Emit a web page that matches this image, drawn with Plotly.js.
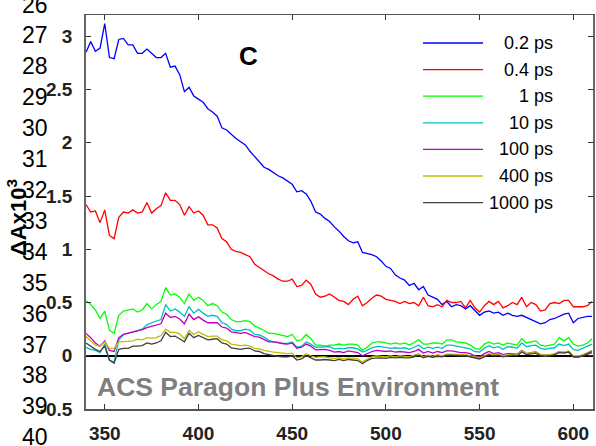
<!DOCTYPE html>
<html><head><meta charset="utf-8">
<script src="https://cdn.plot.ly/plotly-3.0.1.min.js"></script>
<style>html,body{margin:0;padding:0;background:#fff;}#chart{width:596px;height:446px;}</style>
</head><body><div id="chart"></div>
<script>
// Wavelength (nm)
const wavelength = [
340,342.5,345,347.5,350,352.5,355,357.5,360,362.5,
365,367.5,370,372.5,375,377.5,380,382.5,385,387.5,
390,392.5,395,397.5,400,402.5,405,407.5,410,412.5,
415,417.5,420,422.5,425,427.5,430,432.5,435,437.5,
440,442.5,445,447.5,450,452.5,455,457.5,460,462.5,
465,467.5,470,472.5,475,477.5,480,482.5,485,487.5,
490,492.5,495,497.5,500,502.5,505,507.5,510,512.5,
515,517.5,520,522.5,525,527.5,530,532.5,535,537.5,
540,542.5,545,547.5,550,552.5,555,557.5,560,562.5,
565,567.5,570,572.5,575,577.5,580,582.5,585,587.5,
590,592.5,595,597.5,600,602.5,605,607.5,610];

const dA_0p2ps = [
2.85,2.95,2.86,2.89,3.12,2.80,2.79,2.97,2.98,2.92,
2.92,2.84,2.84,2.88,2.84,2.80,2.80,2.84,2.71,2.72,
2.64,2.48,2.52,2.44,2.41,2.38,2.32,2.29,2.25,2.14,
2.12,2.08,2.04,2.01,1.98,1.92,1.87,1.82,1.77,1.75,
1.72,1.69,1.67,1.64,1.61,1.54,1.55,1.52,1.45,1.35,
1.33,1.29,1.26,1.21,1.17,1.12,1.08,1.06,1.07,0.97,
0.96,0.95,0.93,0.89,0.84,0.82,0.76,0.73,0.71,0.66,
0.68,0.62,0.65,0.57,0.55,0.53,0.48,0.51,0.46,0.48,
0.47,0.44,0.47,0.42,0.38,0.41,0.42,0.40,0.41,0.38,
0.40,0.38,0.37,0.38,0.36,0.34,0.32,0.30,0.31,0.34,
0.35,0.37,0.39,0.40,0.31,0.35,0.36,0.37,0.37];

const dA_0p4ps = [
1.42,1.35,1.36,1.25,1.37,1.13,1.10,1.30,1.35,1.34,
1.37,1.34,1.35,1.44,1.34,1.38,1.41,1.53,1.46,1.46,
1.42,1.32,1.40,1.34,1.36,1.32,1.23,1.23,1.20,1.10,
1.07,1.00,0.98,0.97,0.95,0.93,0.86,0.83,0.80,0.77,
0.75,0.72,0.70,0.70,0.72,0.65,0.66,0.71,0.67,0.58,
0.55,0.56,0.58,0.55,0.52,0.51,0.48,0.53,0.56,0.47,
0.50,0.54,0.57,0.56,0.53,0.52,0.51,0.49,0.51,0.49,
0.50,0.47,0.55,0.47,0.46,0.48,0.46,0.52,0.50,0.50,
0.51,0.45,0.52,0.45,0.41,0.47,0.51,0.48,0.51,0.45,
0.47,0.50,0.48,0.55,0.46,0.50,0.48,0.42,0.43,0.49,
0.50,0.49,0.52,0.52,0.46,0.46,0.46,0.47,0.51];

const dA_1ps = [
0.52,0.48,0.43,0.35,0.42,0.24,0.21,0.38,0.42,0.43,
0.44,0.41,0.43,0.49,0.44,0.48,0.51,0.64,0.57,0.58,
0.55,0.49,0.58,0.52,0.55,0.52,0.47,0.49,0.47,0.41,
0.39,0.34,0.32,0.32,0.33,0.32,0.28,0.26,0.24,0.21,
0.21,0.20,0.19,0.18,0.20,0.14,0.15,0.20,0.16,0.10,
0.10,0.09,0.10,0.10,0.11,0.10,0.11,0.11,0.10,0.05,
0.08,0.12,0.13,0.13,0.12,0.11,0.12,0.11,0.12,0.10,
0.125,0.15,0.11,0.11,0.12,0.12,0.11,0.15,0.15,0.13,
0.125,0.12,0.10,0.07,0.06,0.11,0.13,0.11,0.12,0.10,
0.12,0.11,0.10,0.16,0.12,0.13,0.14,0.10,0.09,0.10,
0.11,0.17,0.14,0.17,0.11,0.09,0.10,0.12,0.16];

const dA_10ps = [
0.08,0.06,0.05,0.03,0.11,-0.04,-0.06,0.15,0.20,0.21,
0.22,0.235,0.25,0.29,0.31,0.325,0.34,0.48,0.42,0.44,
0.41,0.37,0.46,0.40,0.435,0.40,0.37,0.38,0.37,0.31,
0.295,0.25,0.235,0.235,0.25,0.24,0.20,0.195,0.175,0.145,
0.13,0.125,0.115,0.115,0.13,0.08,0.09,0.13,0.11,0.08,
0.08,0.085,0.085,0.065,0.07,0.065,0.075,0.075,0.065,0.035,
0.05,0.075,0.085,0.085,0.08,0.07,0.075,0.07,0.075,0.06,
0.08,0.10,0.065,0.08,0.07,0.08,0.07,0.10,0.10,0.09,
0.085,0.075,0.065,0.04,0.035,0.07,0.095,0.075,0.085,0.06,
0.085,0.08,0.07,0.12,0.085,0.095,0.10,0.07,0.06,0.07,
0.075,0.11,0.095,0.11,0.06,0.05,0.07,0.09,0.11];

const dA_100ps = [
0.21,0.17,0.12,0.09,0.14,0.05,0.04,0.17,0.20,0.21,
0.22,0.235,0.245,0.265,0.275,0.285,0.30,0.40,0.36,0.37,
0.345,0.30,0.39,0.34,0.365,0.335,0.31,0.31,0.31,0.27,
0.26,0.225,0.215,0.21,0.22,0.20,0.18,0.175,0.15,0.13,
0.13,0.12,0.115,0.11,0.12,0.07,0.08,0.11,0.09,0.055,
0.055,0.06,0.05,0.035,0.04,0.03,0.045,0.04,0.03,0.0,
0.02,0.04,0.05,0.045,0.04,0.045,0.035,0.04,0.035,0.03,
0.04,0.06,0.025,0.04,0.025,0.04,0.03,0.045,0.045,0.035,
0.03,0.03,0.02,0.0,-0.01,0.02,0.04,0.02,0.03,0.01,
0.02,0.02,0.015,0.05,0.02,0.03,0.035,0.01,0.005,0.01,
0.015,0.04,0.03,0.035,-0.01,-0.015,0.0,0.02,0.03];

const dA_400ps = [
0.18,0.14,0.10,0.09,0.13,0.07,0.07,0.13,0.13,0.135,
0.14,0.155,0.15,0.17,0.165,0.17,0.19,0.25,0.22,0.22,
0.205,0.16,0.24,0.20,0.225,0.205,0.18,0.185,0.185,0.15,
0.14,0.11,0.10,0.095,0.10,0.09,0.07,0.065,0.05,0.04,
0.035,0.03,0.025,0.02,0.025,-0.02,-0.01,0.02,0.0,-0.015,
-0.01,-0.01,-0.02,-0.025,-0.02,-0.03,-0.02,-0.025,-0.03,-0.06,
-0.03,-0.01,0.0,-0.005,-0.01,0.0,-0.01,0.0,-0.005,-0.01,
0.005,0.02,-0.01,0.005,-0.005,0.01,0.0,0.015,0.015,0.01,
0.01,0.01,0.0,-0.01,-0.02,0.0,0.02,0.01,0.015,0.0,
0.01,0.015,0.01,0.05,0.02,0.03,0.035,0.01,0.005,0.01,
0.015,0.04,0.035,0.045,0.0,0.0,0.01,0.03,0.05];

const dA_1000ps = [
0.12,0.09,0.06,0.04,0.09,-0.04,-0.07,0.06,0.07,0.07,
0.09,0.09,0.095,0.12,0.11,0.12,0.14,0.22,0.18,0.185,
0.16,0.13,0.21,0.17,0.19,0.17,0.15,0.155,0.16,0.12,
0.11,0.075,0.065,0.06,0.07,0.07,0.045,0.04,0.02,0.01,
0.0,-0.005,-0.01,-0.01,0.0,-0.04,-0.03,0.0,-0.02,-0.04,
-0.04,-0.035,-0.04,-0.045,-0.035,-0.045,-0.035,-0.04,-0.045,-0.075,
-0.045,-0.025,-0.02,-0.02,-0.025,-0.015,-0.02,-0.015,-0.02,-0.02,
-0.01,0.005,-0.02,-0.005,-0.015,-0.005,-0.01,0.005,0.005,0.0,
0.0,0.0,-0.01,-0.02,-0.03,-0.01,0.01,0.0,0.005,-0.01,
0.0,0.005,0.0,0.035,0.01,0.02,0.025,0.0,-0.005,0.0,
0.01,0.03,0.025,0.035,-0.01,-0.01,0.0,0.02,0.04];

const seriesNames = ['0.2 ps','0.4 ps','1 ps','10 ps','100 ps','400 ps','1000 ps'];
const seriesValues = [dA_0p2ps, dA_0p4ps, dA_1ps, dA_10ps, dA_100ps, dA_400ps, dA_1000ps];
const seriesColors = ['#0000ff','#ff0000','#00ff00','#00bfbf','#bf00bf','#bfbf00','#404040'];
const xTickValues = [350,400,450,500,550,600];
const yTickValues = [-0.5,0,0.5,1,1.5,2,2.5,3];
const lineNumbers = [26,27,28,29,30,31,32,33,34,35,36,37,38,39,40];

// pixel -> paper helpers (layout only)
const W = 596, H = 446, ML = 86, MR = 3, MT = 15, MB = 37;
const PW = W - ML - MR, PH = H - MT - MB;
const px = v => (v - ML) / PW;
const py = v => (H - MB - v) / PH;
const FONT = 'Liberation Sans, Arial, Helvetica, sans-serif';

const traces = seriesValues.map((vals, i) => ({
  type: 'scatter', mode: 'lines', name: seriesNames[i],
  x: wavelength, y: vals,
  line: {color: seriesColors[i], width: 1.3},
  showlegend: false, hoverinfo: 'skip'
}));

const annotations = [];
const shapes = [];
// line numbers of the manuscript margin
lineNumbers.forEach((n, k) => {
  annotations.push({xref:'paper', yref:'paper', x: px(50), y: py(35.5 + (n - 27) * 30.9),
    xanchor:'right', yanchor:'middle', text: String(n), showarrow:false,
    font:{family: FONT, size: 23, color:'#000'}});
});
// custom legend (right-aligned labels)
seriesNames.forEach((name, i) => {
  const yy = 43 + i * 26.6;
  shapes.push({type:'line', xref:'paper', yref:'paper', x0: px(423), x1: px(483), y0: py(yy), y1: py(yy),
    line:{color: seriesColors[i], width: 1.3}});
  annotations.push({xref:'paper', yref:'paper', x: px(555), y: py(yy), xanchor:'right', yanchor:'middle',
    text: name, showarrow:false, font:{family: FONT, size: 18, color:'#000'}});
});
// panel label
annotations.push({xref:'paper', yref:'paper', x: px(248), y: py(56), xanchor:'center', yanchor:'middle',
  text:'<b>C</b>', showarrow:false, font:{family: FONT, size: 26, color:'#000'}});
// watermark
annotations.push({xref:'paper', yref:'paper', x: px(95), y: py(387), xanchor:'left', yanchor:'middle',
  text:'<b>ACS Paragon Plus Environment</b>', showarrow:false, font:{family: FONT, size: 26.5, color:'#7f7f7f'}});
// y axis title
annotations.push({xref:'paper', yref:'paper', x: px(17), y: py(218), xanchor:'center', yanchor:'middle',
  textangle: -90, text:'<b>ΔAx10<sup>3</sup></b>', showarrow:false, font:{family: FONT, size: 22, color:'#000'}});

const layout = {
  width: W, height: H,
  margin: {l: ML, r: MR, t: MT, b: MB, pad: 0},
  paper_bgcolor: '#fff', plot_bgcolor: '#fff',
  showlegend: false,
  xaxis: {range: [340, 610.5], tickvals: xTickValues, ticktext: xTickValues.map(String),
    ticks: 'inside', ticklen: 5, tickwidth: 1, tickcolor: '#333', mirror: 'ticks',
    showline: true, linecolor: '#555', linewidth: 1.5, showgrid: false, zeroline: false,
    ticklabelstandoff: 7,
    tickfont: {family: FONT, size: 19, color: '#222', weight: 'bold'}},
  yaxis: {range: [-0.5, 3.2], tickvals: yTickValues, ticktext: yTickValues.map(v => String(v)),
    ticks: 'inside', ticklen: 5, tickwidth: 1, tickcolor: '#333', mirror: 'ticks',
    showline: true, linecolor: '#666', linewidth: 1.8, showgrid: false,
    zeroline: true, zerolinecolor: '#000', zerolinewidth: 1.5,
    ticklabelstandoff: 8,
    tickfont: {family: FONT, size: 19, color: '#222', weight: 'bold'}},
  annotations: annotations,
  shapes: shapes
};

Plotly.newPlot('chart', traces, layout, {staticPlot: true, displayModeBar: false});
</script></body></html>
